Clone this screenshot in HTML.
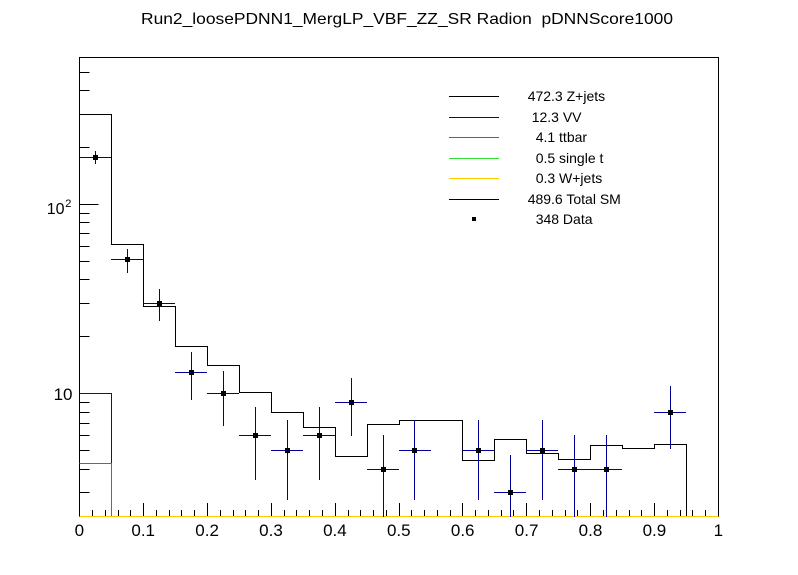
<!DOCTYPE html>
<html><head><meta charset="utf-8"><style>
html,body{margin:0;padding:0;background:#fff;}
svg{display:block;}
text{font-family:"Liberation Sans",Arial,sans-serif;fill:#000;}
</style></head><body>
<svg width="798" height="575" viewBox="0 0 798 575" xmlns="http://www.w3.org/2000/svg">
<rect x="0" y="0" width="798" height="575" fill="#fff"/>
<text x="407" y="24" font-size="16" text-anchor="middle" textLength="532" lengthAdjust="spacingAndGlyphs">Run2_loosePDNN1_MergLP_VBF_ZZ_SR Radion &#160;pDNNScore1000</text>

<!-- frame -->
<rect x="79.5" y="57.5" width="639" height="459" fill="none" stroke="#000" stroke-width="1"/>

<!-- y ticks -->
<g stroke="#000" stroke-width="1">
<path d="M79.5,204.5H98.5M79.5,393.5H98.5"/>
<path d="M79.5,72.5H89.5M79.5,90.5H89.5M79.5,114.5H89.5M79.5,147.5H89.5M79.5,213.5H89.5M79.5,222.5H89.5M79.5,233.5H89.5M79.5,246.5H89.5M79.5,261.5H89.5M79.5,279.5H89.5M79.5,303.5H89.5M79.5,336.5H89.5M79.5,402.5H89.5M79.5,412.5H89.5M79.5,423.5H89.5M79.5,435.5H89.5M79.5,450.5H89.5M79.5,469.5H89.5M79.5,492.5H89.5"/>
<!-- x ticks -->
<path d="M79.5,517V503M143.5,517V503M207.5,517V503M271.5,517V503M335.5,517V503M399.5,517V503M462.5,517V503M526.5,517V503M590.5,517V503M654.5,517V503M718.5,517V503"/>
<path d="M92.5,517V510M105.5,517V510M118.5,517V510M130.5,517V510M156.5,517V510M169.5,517V510M181.5,517V510M194.5,517V510M220.5,517V510M233.5,517V510M245.5,517V510M258.5,517V510M284.5,517V510M296.5,517V510M309.5,517V510M322.5,517V510M348.5,517V510M360.5,517V510M373.5,517V510M386.5,517V510M411.5,517V510M424.5,517V510M437.5,517V510M450.5,517V510M475.5,517V510M488.5,517V510M501.5,517V510M513.5,517V510M539.5,517V510M552.5,517V510M565.5,517V510M577.5,517V510M603.5,517V510M616.5,517V510M629.5,517V510M641.5,517V510M667.5,517V510M680.5,517V510M692.5,517V510M705.5,517V510"/>
</g>

<!-- axis labels -->
<g font-size="17" text-anchor="middle">
<text x="79.3" y="536">0</text>
<text x="143.2" y="536">0.1</text>
<text x="207.1" y="536">0.2</text>
<text x="271" y="536">0.3</text>
<text x="334.9" y="536">0.4</text>
<text x="398.8" y="536">0.5</text>
<text x="462.7" y="536">0.6</text>
<text x="526.6" y="536">0.7</text>
<text x="590.5" y="536">0.8</text>
<text x="654.4" y="536">0.9</text>
<text x="718.3" y="536">1</text>
</g>
<text x="72.5" y="400" font-size="17" text-anchor="end">10</text>
<text x="64.5" y="214" font-size="16" text-anchor="end">10</text>
<text x="65.3" y="207" font-size="11">2</text>

<!-- Z+jets / Total SM histogram -->
<path d="M79.5,516.5V114.5H111.5V244.5H143.5V306.5H175.5V346.5H207.5V365.5H239.5V392.5H271.5V412.5H303.5V427.5H335.5V456.5H367.5V424.5H399.5V420.5H462.5V460.5H494.5V439.5H526.5V453.5H558.5V459.5H590.5V445.5H622.5V448.5H654.5V444.5H686.5V516.5" fill="none" stroke="#000" stroke-width="1"/>
<!-- VV -->
<path d="M79.5,393.5H111.5V516.5" fill="none" stroke="#0000ff" stroke-width="1"/>
<!-- ttbar -->
<path d="M79.5,463.5H111.5V516.5" fill="none" stroke="#ff00ff" stroke-width="1"/>
<!-- W+jets along bottom -->
<path d="M79.5,516.5H718.5" stroke="#ffcc00" stroke-width="1"/>

<!-- data -->
<g stroke="#000099" stroke-width="1" fill="none">
<path d="M79,157.5H111M95.5,151V164"/>
<path d="M111,259.5H143M127.5,249V273"/>
<path d="M143,303.5H175M159.5,289V321"/>
<path d="M175,372.5H207M191.5,352V400"/>
<path d="M207,393.5H239M223.5,371V426"/>
<path d="M239,435.5H271M255.5,407V480"/>
<path d="M271,450.5H303M287.5,420V500"/>
<path d="M303,435.5H335M319.5,407V480"/>
<path d="M335,402.5H367M351.5,378V436"/>
<path d="M367,469.5H399M383.5,435V517"/>
<path d="M399,450.5H431M414.5,420V500"/>
<path d="M462,450.5H494M478.5,420V500"/>
<path d="M494,492.5H526M510.5,455V517"/>
<path d="M526,450.5H558M542.5,420V500"/>
<path d="M558,469.5H590M574.5,435V517"/>
<path d="M590,469.5H622M606.5,435V517"/>
<path d="M654,412.5H686M670.5,386V449"/>
</g>
<g fill="#000">
<rect x="93" y="155" width="5" height="5"/>
<rect x="125" y="257" width="5" height="5"/>
<rect x="157" y="301" width="5" height="5"/>
<rect x="189" y="370" width="5" height="5"/>
<rect x="221" y="391" width="5" height="5"/>
<rect x="253" y="433" width="5" height="5"/>
<rect x="285" y="448" width="5" height="5"/>
<rect x="317" y="433" width="5" height="5"/>
<rect x="349" y="400" width="5" height="5"/>
<rect x="381" y="467" width="5" height="5"/>
<rect x="412" y="448" width="5" height="5"/>
<rect x="476" y="448" width="5" height="5"/>
<rect x="508" y="490" width="5" height="5"/>
<rect x="540" y="448" width="5" height="5"/>
<rect x="572" y="467" width="5" height="5"/>
<rect x="604" y="467" width="5" height="5"/>
<rect x="668" y="410" width="5" height="5"/>
</g>

<!-- legend -->
<g stroke-width="1">
<path d="M449,96.5H499" stroke="#000"/>
<path d="M449,117.5H499" stroke="#0000cc"/>
<path d="M449,137.5H499" stroke="#ee00ee"/>
<path d="M449,158.5H499" stroke="#33dd33"/>
<path d="M449,178.5H499" stroke="#ffcc00"/>
<path d="M449,199.5H499" stroke="#000"/>
</g>
<rect x="472" y="217" width="4" height="4" fill="#000"/>
<g font-size="14">
<text x="527.7" y="101">472.3 Z+jets</text>
<text x="531.7" y="122">12.3 VV</text>
<text x="535.7" y="142">4.1 ttbar</text>
<text x="535.7" y="163">0.5 single t</text>
<text x="535.7" y="183">0.3 W+jets</text>
<text x="527.7" y="204">489.6 Total SM</text>
<text x="535.7" y="224">348 Data</text>
</g>
</svg>
</body></html>
